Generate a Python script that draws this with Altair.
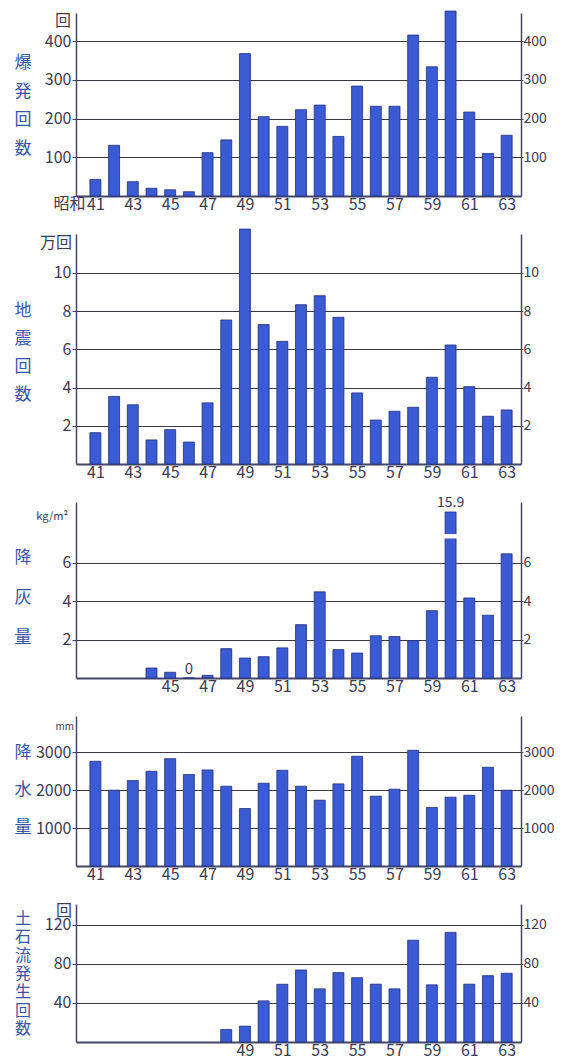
import altair as alt
import pandas as pd

# ---------------- data ----------------
years = list(range(41, 64))  # 昭和41 .. 昭和63
eruptions = [43, 131, 37, 20, 16, 11, 112, 145, 368, 205, 180, 223, 235, 154,
             284, 232, 232, 416, 334, 478, 217, 110, 157]
quakes = [1.64, 3.54, 3.1, 1.26, 1.8, 1.15, 3.2, 7.54, 12.3, 7.3, 6.42, 8.34,
          8.81, 7.68, 3.72, 2.3, 2.76, 2.97, 4.54, 6.23, 4.05, 2.5, 2.83]
ashfall = [None, None, None, 0.52, 0.3, 0, 0.14, 1.53, 1.04, 1.11, 1.57, 2.78,
           4.49, 1.48, 1.3, 2.2, 2.16, 1.95, 3.51, 15.9, 4.17, 3.27, 6.47]
rainfall = [2763, 2000, 2254, 2500, 2833, 2412, 2535, 2105, 1518, 2184, 2526,
            2105, 1737, 2167, 2895, 1842, 2026, 3053, 1544, 1816, 1868, 2605, 2000]
debris = [None, None, None, None, None, None, None, 12.8, 16.2, 42, 59, 73.6,
          54.3, 70.9, 65.7, 59.1, 54.3, 104, 58.4, 112, 59.1, 67.8, 70.2]

titles = ["爆発回数", "地震回数", "降灰量", "降水量", "土石流発生回数"]
units = ["回", "万回", "kg/m²", "mm", "回"]
era = "昭和"
yticks = [[100, 200, 300, 400], [2, 4, 6, 8, 10], [2, 4, 6],
          [1000, 2000, 3000], [40, 80, 120]]
odd_all = list(range(41, 64, 2))
xticks = [odd_all, odd_all, list(range(45, 64, 2)), odd_all, list(range(49, 64, 2))]

# ---------------- style ----------------
FONT = "Noto Sans CJK JP"
BAR = "#3a5bd3"
BAR_STROKE = "#22307a"
TXT = "#3a3a55"
TTL = "#3854a8"
AX = "#45456a"
GRID = "#3a3a44"
W = 445
XDOM = [40.23, 63.5]


def panel(values, ymax, yvals, xvals, height, title, t_center, t_lh, t_size,
          unit, u_size, u_x, u_y, clip=None, break_lo=None, break_hi=None,
          era_label=False):
    df = pd.DataFrame({"year": years, "v": values})
    df["show"] = df["v"].clip(upper=clip) if clip is not None else df["v"]

    xdef = alt.X(
        "year:Q",
        scale=alt.Scale(domain=XDOM, nice=False, zero=False),
        axis=alt.Axis(values=xvals, format="d", ticks=False, grid=False,
                      title=None, domainColor=AX, domainWidth=2,
                      labelFont=FONT, labelFontSize=16, labelColor=TXT,
                      labelPadding=0, labelFlush=False, labelBaseline="top"),
    )
    yscale = alt.Scale(domain=[0, ymax], nice=False, zero=True)
    yaxis = alt.Axis(values=yvals, grid=True, gridColor=GRID, gridWidth=1,
                     tickSize=4, tickColor=AX, domainColor=AX, domainWidth=1.5,
                     labelFont=FONT, labelFontSize=16, labelColor=TXT,
                     labelPadding=1, labelFlush=False, title=None, format="d")
    ydef = alt.Y("show:Q", scale=yscale, axis=yaxis)

    layers = [
        alt.Chart(df).mark_bar(size=11, fill=BAR, stroke=BAR_STROKE,
                               strokeWidth=0.8).encode(x=xdef, y=ydef)
    ]

    if clip is not None:
        big = alt.Chart(df).transform_filter(f"datum.v > {clip}")
        layers.append(
            big.mark_bar(size=15, color="white").encode(
                x=xdef,
                y=alt.Y(datum=break_lo, type="quantitative", scale=yscale, axis=yaxis),
                y2=alt.Y2(datum=break_hi),
            )
        )
        layers.append(
            big.mark_text(font=FONT, fontSize=14, color=TXT, baseline="bottom",
                          dy=-2).encode(
                x=xdef, y=ydef, text=alt.Text("v:Q"))
        )
        layers.append(
            alt.Chart(df).transform_filter("datum.v === 0").mark_text(
                font=FONT, fontSize=15, color=TXT, baseline="bottom", dy=-1
            ).encode(x=xdef, y=ydef, text=alt.Text("v:Q"))
        )

    if era_label:
        layers.append(
            alt.Chart(df).transform_filter("datum.year === 41").mark_text(
                font=FONT, fontSize=16, color=TXT, align="right",
                baseline="top", dx=-10
            ).encode(x=xdef, y=alt.value(height), text=alt.value(era))
        )

    # vertical title, one character per line
    n = len(title)
    first = t_center - (n - 1) * t_lh / 2
    for i, ch in enumerate(title):
        layers.append(
            alt.Chart(pd.DataFrame({"t": [ch]})).mark_text(
                font=FONT, fontSize=t_size, color=TTL, align="center",
                baseline="middle"
            ).encode(text="t:N", x=alt.value(-53), y=alt.value(first + i * t_lh))
        )
    layers.append(
        alt.Chart(pd.DataFrame({"t": [unit]})).mark_text(
            font=FONT, fontSize=u_size, color=TXT, align="right", baseline="top"
        ).encode(text="t:N", x=alt.value(u_x), y=alt.value(u_y))
    )

    right = alt.Chart(df).mark_bar(size=11, opacity=0).encode(
        x=xdef,
        y=alt.Y("show:Q", scale=yscale,
                axis=alt.Axis(orient="right", values=yvals, grid=False,
                              tickSize=2, tickColor=AX, domainColor=AX,
                              domainWidth=1.5, labelFont=FONT, labelFontSize=14,
                              labelColor=TXT, labelPadding=0, labelFlush=False,
                              title=None, format="d")),
    )
    return alt.layer(alt.layer(*layers), right).resolve_scale(
        y="independent").properties(width=W, height=height)


p1 = panel(eruptions, 473, yticks[0], xticks[0], 183, titles[0], 93, 28.7, 17,
           units[0], 16, -5, 0, era_label=True)
p2 = panel(quakes, 12.04, yticks[1], xticks[1], 230, titles[1], 119, 28.2, 17,
           units[1], 16, -4, 1)
p3 = panel(ashfall, 9.17, yticks[2], xticks[2], 176, titles[2], 96, 40, 17,
           units[2], 11, -8, 9, clip=8.65, break_lo=7.27, break_hi=7.5)
p4 = panel(rainfall, 3958, yticks[3], xticks[3], 150, titles[3], 74, 37.5, 17,
           units[3], 10, -2, 6)
p5 = panel(debris, 141, yticks[4], xticks[4], 138, titles[4], 70, 18.3, 16,
           units[4], 16, -4, -1)

chart = alt.vconcat(p1, p2, p3, p4, p5, spacing=38, bounds="flush").properties(
    padding={"left": 6, "top": 2, "right": 0, "bottom": 0}
).configure_view(stroke=None)

chart.save("out.html", embed_options={"renderer": "svg", "actions": False})
